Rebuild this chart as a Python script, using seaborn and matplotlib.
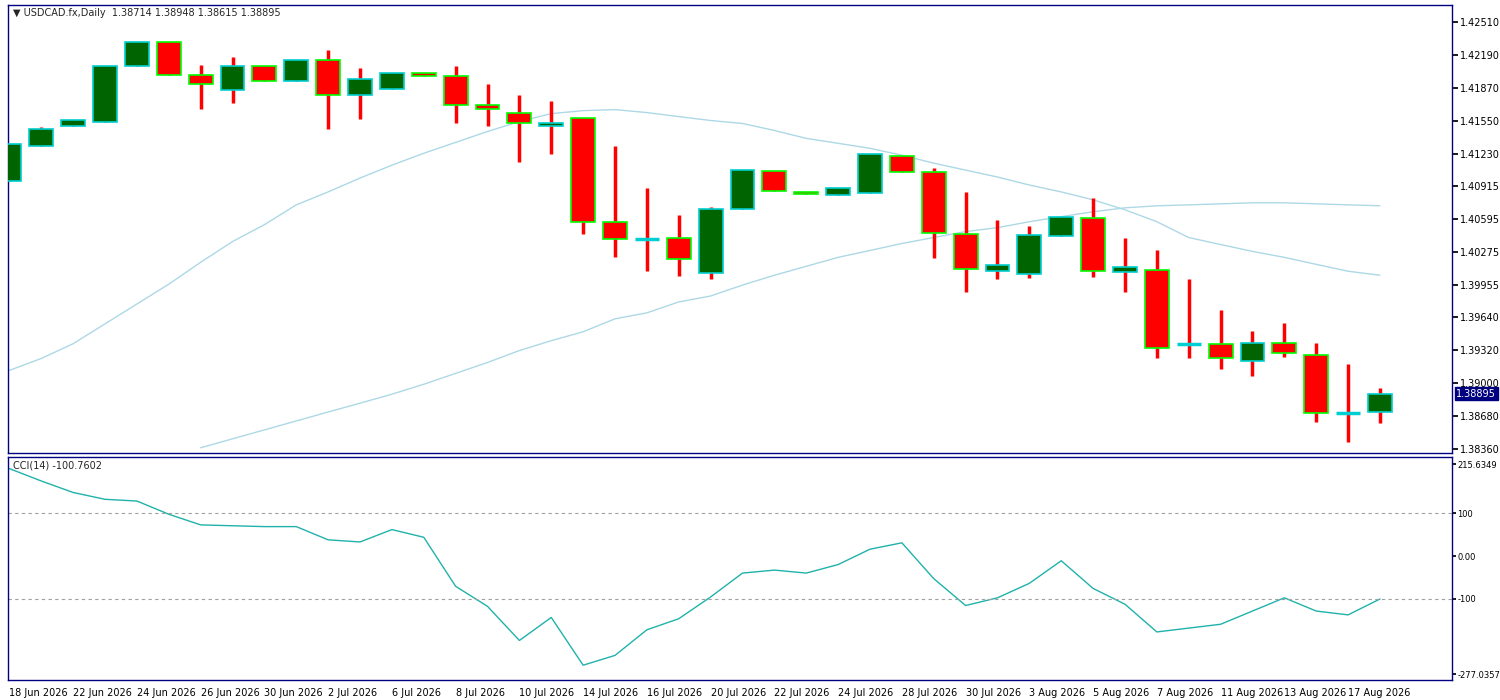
import matplotlib
matplotlib.use("Agg")
import matplotlib.pyplot as plt
import seaborn as sns
import numpy as np
import pandas as pd

sns.set_theme(style="white")
plt.rcParams['font.family'] = ['DejaVu Sans']

dates = ["18 Jun 2026","19 Jun 2026","22 Jun 2026","23 Jun 2026","24 Jun 2026","25 Jun 2026","26 Jun 2026",
         "29 Jun 2026","30 Jun 2026","1 Jul 2026","2 Jul 2026","3 Jul 2026","6 Jul 2026","7 Jul 2026","8 Jul 2026",
         "9 Jul 2026","10 Jul 2026","13 Jul 2026","14 Jul 2026","15 Jul 2026","16 Jul 2026","17 Jul 2026",
         "20 Jul 2026","21 Jul 2026","22 Jul 2026","23 Jul 2026","24 Jul 2026","27 Jul 2026","28 Jul 2026",
         "29 Jul 2026","30 Jul 2026","31 Jul 2026","3 Aug 2026","4 Aug 2026","5 Aug 2026","6 Aug 2026",
         "7 Aug 2026","10 Aug 2026","11 Aug 2026","12 Aug 2026","13 Aug 2026","14 Aug 2026","17 Aug 2026","18 Aug 2026"]

opens  = [1.40966,1.41304,1.41506,1.41545,1.42085,1.42317,1.41999,1.41854,1.42085,1.41941,1.42143,1.41806,1.41863,1.42018,1.41989,
          1.41709,1.41632,1.41497,1.41584,1.40570,1.40406,1.40416,1.40069,1.40696,1.41062,1.40860,1.40831,1.40850,1.41207,
          1.41053,1.40455,1.40088,1.40059,1.40435,1.40609,1.40078,1.40097,1.39383,1.39383,1.39210,1.39393,1.39277,1.38708,1.38714]
closes = [1.41323,1.41477,1.41555,1.42085,1.42317,1.41999,1.41912,1.42085,1.41941,1.42143,1.41806,1.41960,1.42018,1.41989,1.41709,
          1.41670,1.41535,1.41526,1.40570,1.40406,1.40406,1.40204,1.40696,1.41072,1.40869,1.40841,1.40898,1.41227,1.41053,
          1.40464,1.40107,1.40146,1.40445,1.40619,1.40088,1.40126,1.39345,1.39383,1.39239,1.39393,1.39297,1.38708,1.38708,1.38895]
highs  = [1.41323,1.41487,1.41555,1.42085,1.42317,1.42317,1.42095,1.42172,1.42085,1.42143,1.42240,1.42066,1.42018,1.42018,1.42085,
          1.41912,1.41806,1.41748,1.41584,1.41304,1.40898,1.40638,1.40715,1.41072,1.41062,1.40860,1.40898,1.41227,1.41207,
          1.41091,1.40860,1.40590,1.40532,1.40619,1.40802,1.40416,1.40290,1.40011,1.39711,1.39509,1.39586,1.39393,1.39190,1.38948]
lows   = [1.40966,1.41304,1.41506,1.41545,1.42085,1.41999,1.41670,1.41728,1.41941,1.41941,1.41477,1.41574,1.41863,1.41989,1.41526,
          1.41506,1.41149,1.41227,1.40455,1.40223,1.40088,1.40040,1.40011,1.40696,1.40869,1.40841,1.40831,1.40850,1.41053,
          1.40213,1.39885,1.40011,1.40020,1.40435,1.40030,1.39885,1.39239,1.39248,1.39132,1.39065,1.39258,1.38621,1.38428,1.38615]

ma_fast = [1.39123,1.39239,1.39383,1.39576,1.39769,1.39962,1.40175,1.40377,1.40541,1.40734,1.40860,1.40995,1.41120,1.41236,1.41342,
           1.41448,1.41545,1.41622,1.41651,1.41661,1.41632,1.41593,1.41555,1.41526,1.41458,1.41381,1.41333,1.41284,1.41217,
           1.41140,1.41072,1.41005,1.40927,1.40860,1.40783,1.40686,1.40570,1.40416,1.40348,1.40281,1.40223,1.40155,1.40088,1.40049]
ma_slow = [np.nan]*6 + [1.38370,1.38457,1.38544,1.38631,1.38718,1.38804,1.38891,1.38988,1.39094,1.39200,1.39316,1.39412,1.39499,
           1.39625,1.39683,1.39789,1.39847,1.39953,1.40049,1.40136,1.40223,1.40290,1.40358,1.40416,1.40474,1.40512,1.40570,
           1.40619,1.40667,1.40705,1.40725,1.40734,1.40744,1.40754,1.40754,1.40744,1.40734,1.40725]

cci = [205,176,149,133,129,98,73,71,69,69,38,33,62,44,-71,-118,-198,-144,-256,-233,-173,-147,-96,-40,-33,-40,-20,16,31,
       -53,-116,-98,-64,-11,-76,-113,-178,-169,-160,-129,-98,-129,-138,-100.7602]

price_ticks = [1.42510,1.42190,1.41870,1.41550,1.41230,1.40915,1.40595,1.40275,1.39955,1.39640,1.39320,1.39000,1.38680,1.38360]
cci_ticks = [215.6349, 100, 0, -100, -277.0357]
cci_tick_labels = ["215.6349", "100", "0.00", "-100", "-277.0357"]

df = pd.DataFrame({"i": np.arange(len(dates)), "date": dates, "open": opens, "close": closes,
                   "high": highs, "low": lows, "ma_fast": ma_fast, "ma_slow": ma_slow, "cci": cci})

fig = plt.figure(figsize=(15, 7), dpi=100)
ax = fig.add_axes([0.005, 0.353, 0.963, 0.640])
ax2 = fig.add_axes([0.005, 0.029, 0.963, 0.318])

xlim = (-0.06, 45.26)
frame = "#000080"

sns.lineplot(data=df, x="i", y="ma_fast", ax=ax, color="#ADD8E6", lw=1)
sns.lineplot(data=df, x="i", y="ma_slow", ax=ax, color="#ADD8E6", lw=1)

w = 0.75
for r in df.itertuples():
    ax.vlines(r.i, r.low, r.high, color="#FF0000", lw=2.5, zorder=2)
    if abs(r.close - r.open) < 1e-5:
        ax.hlines(r.open, r.i - w/2, r.i + w/2, color="#00CED1", lw=2.5, zorder=3)
    elif r.close > r.open:
        ax.bar(r.i, r.close - r.open, bottom=r.open, width=w, color="#006400",
               edgecolor="#00CED1", lw=1.2, zorder=3)
    else:
        ax.bar(r.i, r.open - r.close, bottom=r.close, width=w, color="#FF0000",
               edgecolor="#00FF00", lw=1.2, zorder=3)

ax.set_xlim(*xlim)
ax.set_ylim(1.38320, 1.42680)
ax.yaxis.tick_right()
ax.set_yticks(price_ticks)
ax.set_yticklabels([f"{t:.5f}" for t in price_ticks])
ax.set_xticks([])
ax.set_xlabel(""); ax.set_ylabel("")
ax.tick_params(axis="y", labelsize=7, length=4, direction="out", colors="black", pad=2)
ax.text(0.004, 0.992, "\u25bc USDCAD.fx,Daily  1.38714 1.38948 1.38615 1.38895", transform=ax.transAxes,
        fontsize=7, va="top", ha="left")
ax.text(1.003, 1.38895, "1.38895", transform=ax.get_yaxis_transform(), fontsize=7, color="white",
        va="center", ha="left", bbox=dict(boxstyle="square,pad=0.15", fc="#000080", ec="#000080"))

sns.lineplot(data=df, x="i", y="cci", ax=ax2, color="#20B2AA", lw=1)
ax2.axhline(100, color="#A0A0A0", ls=(0, (3, 3)), lw=0.8)
ax2.axhline(-100, color="#A0A0A0", ls=(0, (3, 3)), lw=0.8)
ax2.set_xlim(*xlim)
ax2.set_ylim(-290, 232)
ax2.yaxis.tick_right()
ax2.set_yticks(cci_ticks)
ax2.set_yticklabels(cci_tick_labels)
ax2.tick_params(axis="y", labelsize=6.0, length=3, colors="black", pad=1)
ax2.set_xlabel(""); ax2.set_ylabel("")
ax2.text(0.004, 0.985, "CCI(14) -100.7602", transform=ax2.transAxes, fontsize=7, va="top", ha="left")
tick_idx = list(range(0, len(dates), 2))
ax2.set_xticks(tick_idx)
ax2.set_xticklabels([dates[k] for k in tick_idx])
ax2.tick_params(axis="x", labelsize=7, length=4, pad=2, colors="black")
for lab in ax2.get_xticklabels():
    lab.set_horizontalalignment("left")

for a in (ax, ax2):
    for s in a.spines.values():
        s.set_color(frame)
        s.set_linewidth(1)

fig.savefig("out.png", dpi=100, facecolor="white")
